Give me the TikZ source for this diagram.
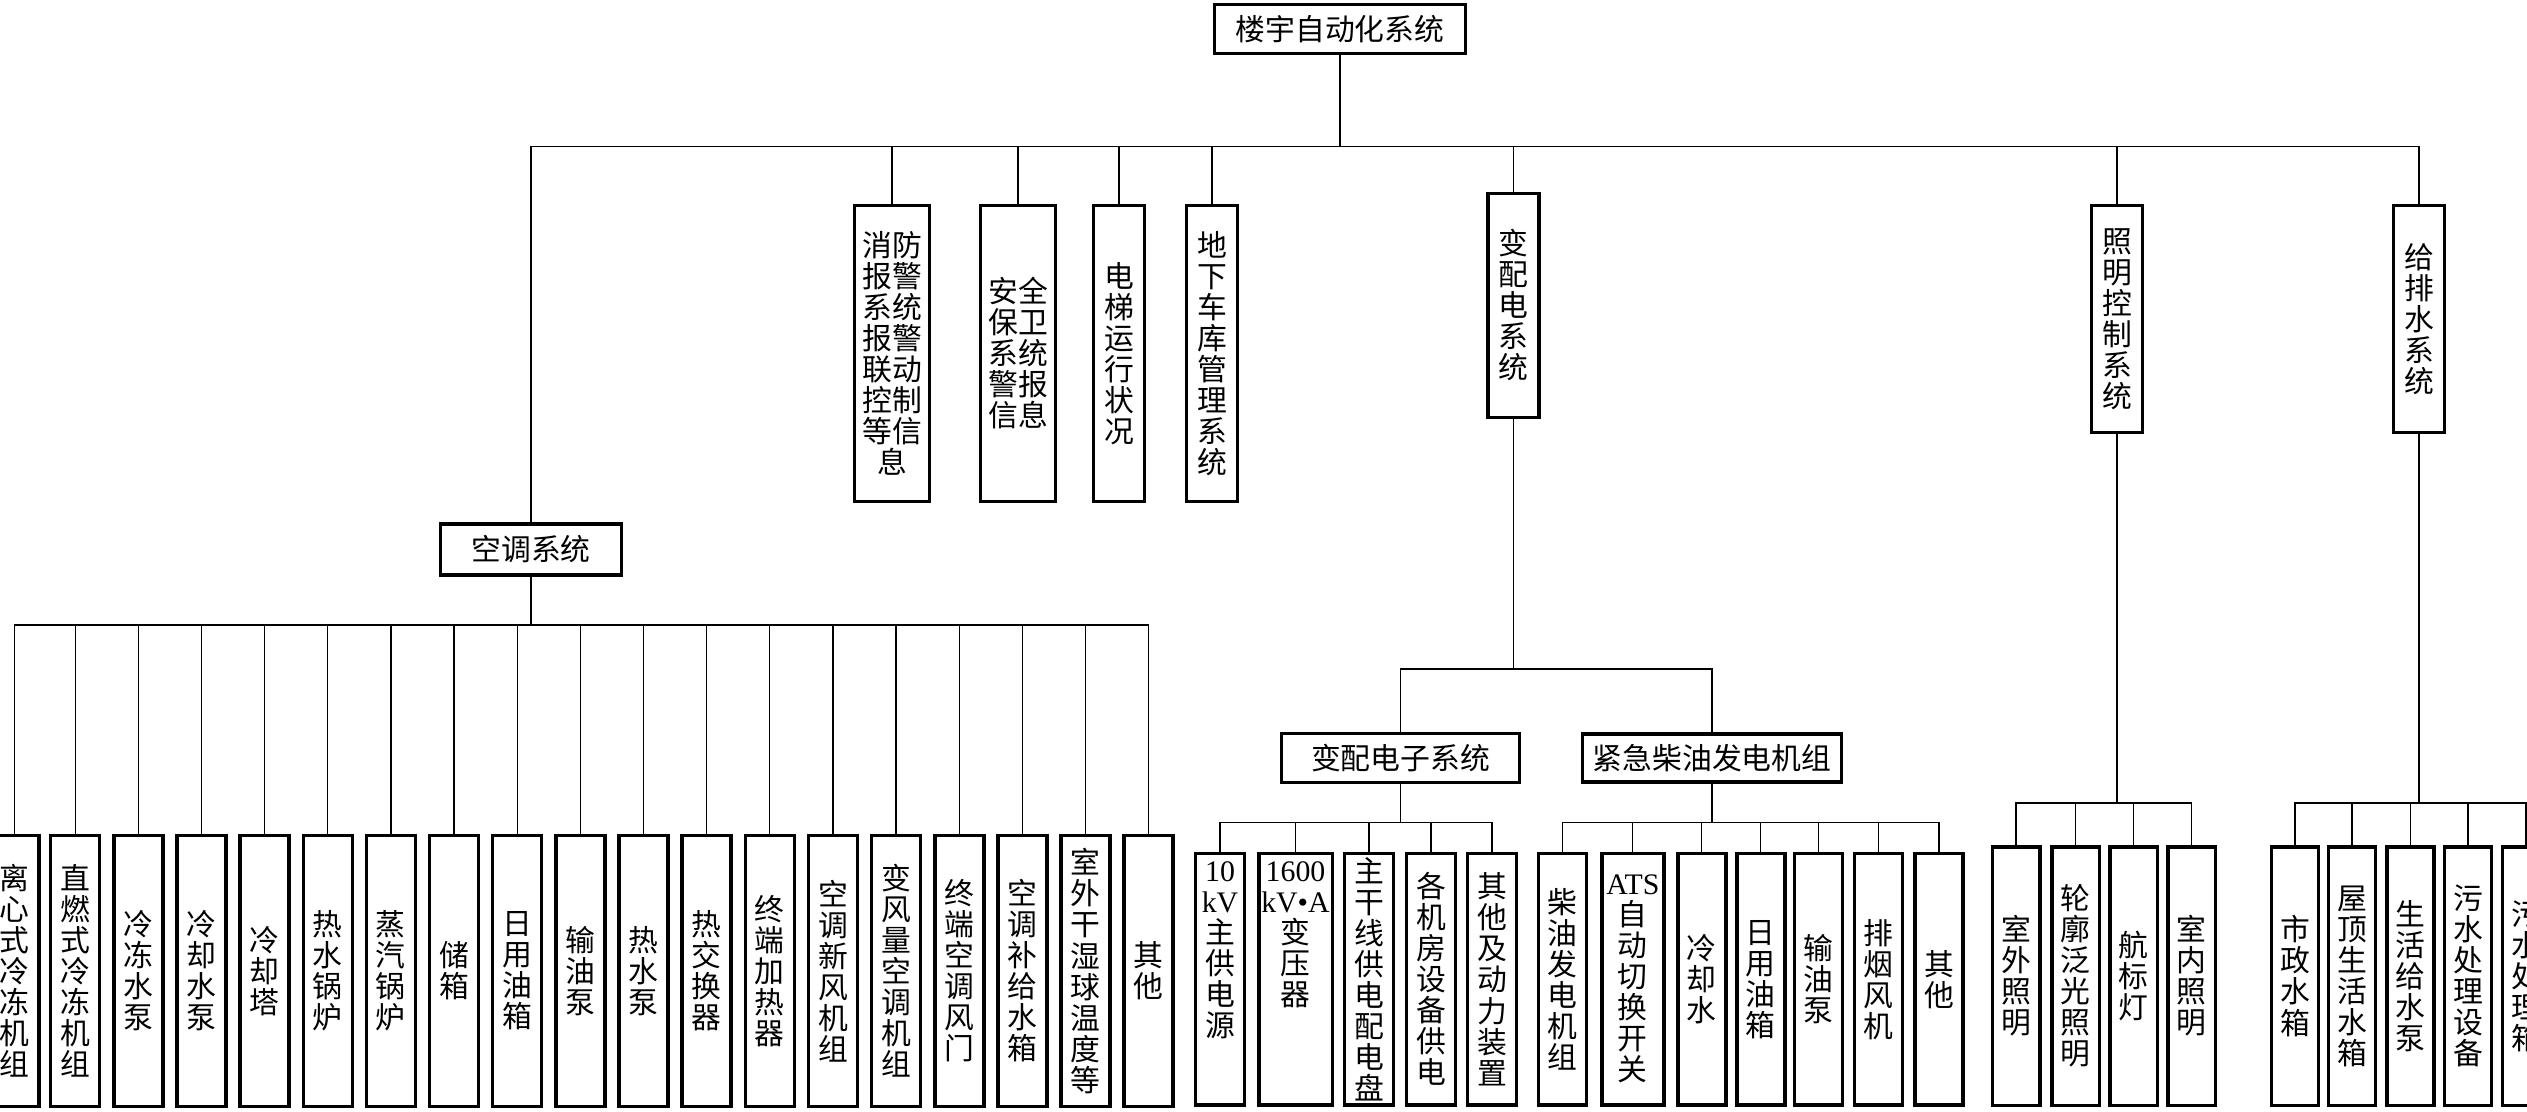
\documentclass[tikz,border=0pt]{standalone}
\usepackage{fontspec}
\setmainfont{Noto Sans CJK SC}
\newfontfamily\latin{Liberation Serif}
\newdimen\px \px=0.01cm
\newcommand\fs{\fontsize{8.48pt}{8.82pt}\selectfont}
\begin{document}
\begin{tikzpicture}[x=0.01cm,y=-0.01cm,
  box/.style={draw, line width=3.5\px, fill=white, inner sep=0pt, align=center, font=\fs},
  txt/.style={inner sep=0pt, align=center, font=\fs},
  conn/.style={line width=1.3\px}]
\useasboundingbox (0,0) rectangle (2527,1111);
\clip (0,0) rectangle (2527,1111);

% root
\node[box, minimum width=251\px, minimum height=49\px] (root) at (1340,29) {楼宇自动化系统};
\coordinate (topbus) at (1340,146.7);

% level 1
\node[box, minimum width=181\px, minimum height=51\px] (ac) at (531,549.5) {空调系统};
\node[box, minimum width=75\px, minimum height=296\px] (fire) at (892,353.5) {消防\\报警\\系统\\报警\\联动\\控制\\等信\\息};
\node[box, minimum width=75\px, minimum height=296\px] (sec) at (1018,353.5) {安全\\保卫\\系统\\警报\\信息};
\node[box, minimum width=51\px, minimum height=296\px] (elev) at (1119,353.5) {电\\梯\\运\\行\\状\\况};
\node[box, minimum width=51\px, minimum height=296\px] (park) at (1212,353.5) {地\\下\\车\\库\\管\\理\\系\\统};
\node[box, minimum width=51\px, minimum height=224\px] (pow) at (1513.5,305.3) {变\\配\\电\\系\\统};
\node[box, minimum width=51\px, minimum height=227\px] (light) at (2117,319) {照\\明\\控\\制\\系\\统};
\node[box, minimum width=51\px, minimum height=227\px] (water) at (2419,319) {给\\排\\水\\系\\统};

\draw[conn] (root.south) -- (topbus);
\foreach \c in {ac,fire,sec,elev,park,pow,light,water}
  \draw[conn] (topbus) -| (\c.north);

% air conditioning children
\coordinate (acbus) at (531,625);
\draw[conn] (ac.south) -- (acbus);
\foreach \i/\t in {0/{离\\心\\式\\冷\\冻\\机\\组},1/{直\\燃\\式\\冷\\冻\\机\\组},2/{冷\\冻\\水\\泵},3/{冷\\却\\水\\泵},4/{冷\\却\\塔},5/{热\\水\\锅\\炉},6/{蒸\\汽\\锅\\炉},7/{储\\箱},8/{日\\用\\油\\箱},9/{输\\油\\泵},10/{热\\水\\泵},11/{热\\交\\换\\器},12/{终\\端\\加\\热\\器},13/{空\\调\\新\\风\\机\\组},14/{变\\风\\量\\空\\调\\机\\组},15/{终\\端\\空\\调\\风\\门},16/{空\\调\\补\\给\\水\\箱},17/{室\\外\\干\\湿\\球\\温\\度\\等},18/{其\\他}}{
  \pgfmathsetmacro\xx{\i==0 ? 14.5 : 12+63.15*\i}
  \node[box, minimum width=49\px, minimum height=271\px] (ac\i) at (\xx,971) {\t};
  \draw[conn] (acbus) -| (ac\i.north);
}

% power distribution
\coordinate (powbus) at (1513.5,669);
\node[box, minimum width=238\px, minimum height=49\px] (sub) at (1400.5,758) {变配电子系统};
\node[box, minimum width=259\px, minimum height=48\px] (gen) at (1712,758) {紧急柴油发电机组};
\draw[conn] (pow.south) -- (powbus);
\draw[conn] (powbus) -| (sub.north);
\draw[conn] (powbus) -| (gen.north);

\coordinate (subbus) at (1400.5,822.7);
\node[box, minimum width=49\px, minimum height=251.5\px] (p1) at (1220,979.2) {};
\node[txt, anchor=north] (p1t) at ([yshift=-9.5\px]p1.north) {{\latin 10}\\{\latin kV}\\主\\供\\电\\源};
\node[box, minimum width=73.5\px, minimum height=251.5\px] (p2) at (1295.5,979.2) {};
\node[txt, anchor=north] (p2t) at ([yshift=-9.5\px]p2.north) {{\latin 1600}\\{\latin kV•A}\\变\\压\\器};
\node[box, minimum width=49\px, minimum height=251.5\px] (p3) at (1369,979.2) {主\\干\\线\\供\\电\\配\\电\\盘};
\node[box, minimum width=49\px, minimum height=251.5\px] (p4) at (1431,979.2) {各\\机\\房\\设\\备\\供\\电};
\node[box, minimum width=49\px, minimum height=251.5\px] (p5) at (1492,979.2) {其\\他\\及\\动\\力\\装\\置};
\draw[conn] (sub.south) -- (subbus);
\foreach \c in {p1,p2,p3,p4,p5}
  \draw[conn] (subbus) -| (\c.north);

\coordinate (genbus) at (1712,822.7);
\node[box, minimum width=48\px, minimum height=251.5\px] (g1) at (1562.7,979.2) {柴\\油\\发\\电\\机\\组};
\node[box, minimum width=62\px, minimum height=251.5\px] (g2) at (1632.8,979.2) {{\latin ATS}\\自\\动\\切\\换\\开\\关};
\node[box, minimum width=48\px, minimum height=251.5\px] (g3) at (1701.8,979.2) {冷\\却\\水};
\node[box, minimum width=48\px, minimum height=251.5\px] (g4) at (1760.8,979.2) {日\\用\\油\\箱};
\node[box, minimum width=48\px, minimum height=251.5\px] (g5) at (1818.7,979.2) {输\\油\\泵};
\node[box, minimum width=48\px, minimum height=251.5\px] (g6) at (1878.6,979.2) {排\\烟\\风\\机};
\node[box, minimum width=48\px, minimum height=251.5\px] (g7) at (1939,979.2) {其\\他};
\draw[conn] (gen.south) -- (genbus);
\foreach \c in {g1,g2,g3,g4,g5,g6,g7}
  \draw[conn] (genbus) -| (\c.north);

% lighting
\coordinate (lbus) at (2117,803);
\draw[conn] (light.south) -- (lbus);
\foreach \i/\x/\t in {1/2016/{室\\外\\照\\明},2/2075.5/{轮\\廓\\泛\\光\\照\\明},3/2133.5/{航\\标\\灯},4/2191.5/{室\\内\\照\\明}}{
  \node[box, minimum width=47.5\px, minimum height=258.5\px] (l\i) at (\x,976) {\t};
  \draw[conn] (lbus) -| (l\i.north);
}

% water
\coordinate (wbus) at (2419,803);
\draw[conn] (water.south) -- (wbus);
\foreach \i/\x/\t in {1/2295/{市\\政\\水\\箱},2/2352/{屋\\顶\\生\\活\\水\\箱},3/2410.5/{生\\活\\给\\水\\泵},4/2468/{污\\水\\处\\理\\设\\备},5/2526/{污\\水\\处\\理\\箱}}{
  \node[box, minimum width=47\px, minimum height=258.5\px] (w\i) at (\x,976) {\t};
  \draw[conn] (wbus) -| (w\i.north);
}
\end{tikzpicture}
\end{document}
